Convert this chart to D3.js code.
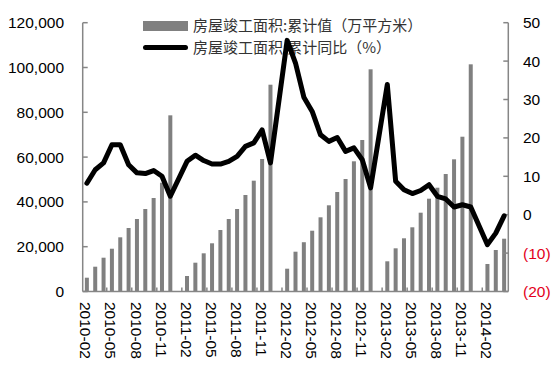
<!DOCTYPE html>
<html>
<head>
<meta charset="utf-8">
<script src="https://cdn.jsdelivr.net/npm/d3@7"></script>
<style>
  body { margin: 0; background: #fff; }
  svg { display: block; }
  .tick-label { font-family: "Liberation Sans", Arial, sans-serif; font-size: 15.5px; fill: #000; }
  .legend-text { font-family: "Noto Sans CJK SC", sans-serif; font-size: 15px; fill: #333; }
</style>
</head>
<body>
<svg id="chart" width="556" height="366"></svg>
<script>
// months (Jan has no separate figure, so it stays empty)
const months = [
  "2010-02","2010-03","2010-04","2010-05","2010-06","2010-07","2010-08","2010-09","2010-10","2010-11","2010-12",
  "2011-01","2011-02","2011-03","2011-04","2011-05","2011-06","2011-07","2011-08","2011-09","2011-10","2011-11","2011-12",
  "2012-01","2012-02","2012-03","2012-04","2012-05","2012-06","2012-07","2012-08","2012-09","2012-10","2012-11","2012-12",
  "2013-01","2013-02","2013-03","2013-04","2013-05","2013-06","2013-07","2013-08","2013-09","2013-10","2013-11","2013-12",
  "2014-01","2014-02","2014-03","2014-04"
];

// 房屋竣工面积:累计值 (万平方米)
const completedArea = [
  6160, 11070, 15090, 19100, 24190, 28350, 32360, 36830, 41740, 48570, 78650,
  null, 6920, 12860, 17050, 21520, 27450, 32360, 36830, 43080, 49470, 59150, 92320,
  null, 10180, 17770, 22000, 27140, 33120, 38480, 44420, 50220, 58120, 67630, 99190,
  null, 13480, 19280, 23750, 28660, 35180, 41430, 46340, 52450, 59010, 69100, 101420,
  null, 12280, 18530, 23570
];

// 房屋竣工面积:累计同比 (%)
const yoyGrowth = [
  8.2, 11.7, 13.5, 18.2, 18.2, 13.0, 10.9, 10.7, 11.5, 10.0, 4.8,
  null, 13.9, 15.5, 14.1, 13.2, 13.2, 13.9, 15.2, 17.8, 18.7, 22.1, 13.5,
  null, 45.4, 39.5, 30.6, 26.9, 20.8, 19.1, 20.1, 16.5, 17.4, 14.3, 7.0,
  null, 33.9, 8.7, 6.5, 5.5, 6.3, 7.8, 4.8, 4.1, 2.0, 2.6, 2.0,
  null, -7.8, -4.8, -0.3
];

const leftTicks = [0, 20000, 40000, 60000, 80000, 100000, 120000];
const rightTicks = [-20, -10, 0, 10, 20, 30, 40, 50];
const legendLabels = ["房屋竣工面积:累计值（万平方米）", "房屋竣工面积:累计同比（%）"];

const svg = d3.select("#chart");
const plotL = 82.7, plotR = 508.3, plotT = 22.7, plotB = 291.5;
const axisColor = "#868686";

const x = d3.scaleBand().domain(months).range([plotL, plotR]).paddingInner(0).paddingOuter(0);
const yL = d3.scaleLinear().domain([0, 120000]).range([plotB, plotT]);
const yR = d3.scaleLinear().domain([-20, 50]).range([plotB, plotT]);

const fmtL = d3.format(",");
const fmtR = v => v < 0 ? "(" + Math.abs(v) + ")" : String(v);

// legend (drawn first, the line passes over it)
const lg = svg.append("g");
lg.append("rect").attr("x", 143).attr("y", 21).attr("width", 45).attr("height", 10).attr("fill", "#808080");
lg.append("line").attr("x1", 145.5).attr("x2", 185.5).attr("y1", 47.5).attr("y2", 47.5)
  .attr("stroke", "#000").attr("stroke-width", 5).attr("stroke-linecap", "round");
lg.selectAll("text").data(legendLabels).enter().append("text")
  .attr("class", "legend-text")
  .attr("x", 193)
  .attr("y", (d, i) => 26 + i * 21.5)
  .attr("dy", "0.35em")
  .text(d => d);

// bars
const barW = 4;
svg.append("g").selectAll("rect")
  .data(months.map((m, i) => ({m, v: completedArea[i]})).filter(d => d.v != null))
  .enter().append("rect")
  .attr("x", d => x(d.m) + x.bandwidth() / 2 - barW / 2)
  .attr("y", d => yL(d.v))
  .attr("width", barW)
  .attr("height", d => plotB - yL(d.v))
  .attr("fill", "#808080");

// axes
const ax = svg.append("g").attr("stroke", axisColor).attr("stroke-width", 1.5).attr("fill", "none");
ax.append("line").attr("x1", plotL).attr("x2", plotL).attr("y1", plotT).attr("y2", plotB);
ax.append("line").attr("x1", plotR).attr("x2", plotR).attr("y1", plotT).attr("y2", plotB);
ax.append("line").attr("x1", plotL).attr("x2", plotR).attr("y1", plotB).attr("y2", plotB);
leftTicks.forEach(t => {
  ax.append("line").attr("x1", plotL).attr("x2", plotL + 5).attr("y1", yL(t)).attr("y2", yL(t));
});
rightTicks.forEach(t => {
  ax.append("line").attr("x1", plotR - 5).attr("x2", plotR).attr("y1", yR(t)).attr("y2", yR(t));
});
months.forEach((m, i) => {
  if (i > 0 && i % 3 === 0) {
    const bx = x(m) - 1;
    ax.append("line").attr("x1", bx).attr("x2", bx).attr("y1", plotB).attr("y2", plotB - 4);
  }
});

// tick labels
svg.append("g").selectAll("text").data(leftTicks).enter().append("text")
  .attr("class", "tick-label")
  .attr("x", 64).attr("y", d => yL(d)).attr("dy", "0.35em")
  .attr("text-anchor", "end")
  .text(fmtL);

svg.append("g").selectAll("text").data(rightTicks).enter().append("text")
  .attr("class", "tick-label")
  .attr("x", 523).attr("y", d => yR(d)).attr("dy", "0.35em")
  .style("fill", d => d < 0 ? "#e3001b" : "#000")
  .text(fmtR);

svg.append("g").selectAll("text")
  .data(months.filter((m, i) => i % 3 === 0))
  .enter().append("text")
  .attr("class", "tick-label")
  .attr("transform", d => `translate(${x(d) + x.bandwidth() / 2 - 1},302) rotate(90)`)
  .attr("dy", "0.35em")
  .text(d => d);

// yoy line, January gaps are bridged
const pts = months.map((m, i) => ({m, v: yoyGrowth[i]})).filter(d => d.v != null);
const lineGen = d3.line()
  .x(d => x(d.m) + x.bandwidth() / 2)
  .y(d => yR(d.v));
svg.append("path")
  .datum(pts)
  .attr("d", lineGen)
  .attr("fill", "none")
  .attr("stroke", "#000")
  .attr("stroke-width", 5)
  .attr("stroke-linejoin", "round")
  .attr("stroke-linecap", "round");
</script>
</body>
</html>
